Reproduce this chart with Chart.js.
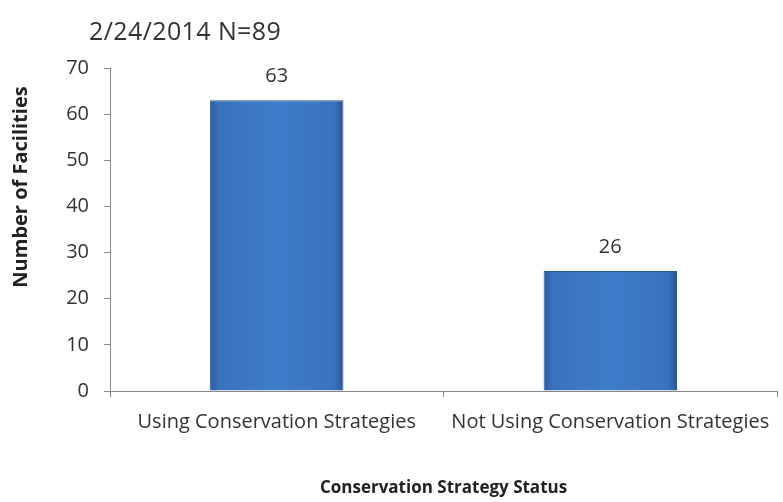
<!DOCTYPE html>
<html>
<head>
<meta charset="utf-8">
<script src="https://cdn.jsdelivr.net/npm/chart.js@4"></script>
<style>
  body { margin: 0; background: #fff; }
  #wrap { position: relative; width: 783px; height: 502px; }
  #title { position: absolute; left: 89px; top: 13px; font: 25px "Open Sans", sans-serif; line-height: 34px; color: #333; letter-spacing: 0.4px; }
</style>
</head>
<body>
<div id="wrap">
  <div id="title">2/24/2014 N=89</div>
  <canvas id="myChart" width="783" height="502"></canvas>
</div>
<script>
const categories = ['Using Conservation Strategies', 'Not Using Conservation Strategies'];
const facilities = [63, 26];
const yTicks = [0, 10, 20, 30, 40, 50, 60, 70];
const yTitle = 'Number of Facilities';

const font = '"Open Sans", sans-serif';

// numbers above the bars and the y axis title (sits above centre in the original)
const extras = {
  id: 'extras',
  afterDatasetsDraw(chart) {
    const ctx = chart.ctx;
    const meta = chart.getDatasetMeta(0);
    ctx.save();
    ctx.font = '20px ' + font;
    ctx.fillStyle = '#333';
    ctx.textAlign = 'center';
    ctx.textBaseline = 'middle';
    meta.data.forEach((bar, i) => {
      ctx.fillText(facilities[i], bar.x, bar.y - 24);
    });
    ctx.translate(21, chart.chartArea.top + 119);
    ctx.rotate(-Math.PI / 2);
    ctx.font = 'bold 20px ' + font;
    ctx.fillStyle = '#222';
    ctx.fillText(yTitle, 0, 0);
    ctx.restore();
  }
};

function barFill(c) {
  const el = c.element;
  if (!el) return '#3c78c4';
  const { x, width } = el.getProps(['x', 'width'], true);
  if (!isFinite(x) || !isFinite(width) || width <= 0) return '#3c78c4';
  const g = c.chart.ctx.createLinearGradient(x - width / 2, 0, x + width / 2, 0);
  g.addColorStop(0, '#2b5c9f');
  g.addColorStop(0.07, '#3a73bd');
  g.addColorStop(0.5, '#3e7cc9');
  g.addColorStop(0.93, '#3a73bd');
  g.addColorStop(1, '#28558f');
  return g;
}

const ctx = document.getElementById('myChart').getContext('2d');
const chart = new Chart(ctx, {
  type: 'bar',
  data: {
    labels: categories,
    datasets: [{
      data: facilities,
      backgroundColor: barFill,
      borderColor: '#2c5894',
      borderWidth: 1,
      categoryPercentage: 1,
      barPercentage: 0.4
    }]
  },
  options: {
    responsive: false,
    animation: false,
    layout: { padding: { top: 68, right: 3, left: 0, bottom: 0 } },
    plugins: {
      legend: { display: false },
      tooltip: { enabled: false }
    },
    scales: {
      x: {
        afterFit(scale) { scale.height = 111; },
        grid: { offset: true, drawOnChartArea: false, color: '#888', tickLength: 6 },
        border: { color: '#888' },
        ticks: { color: '#333', font: { family: font, size: 20 }, padding: 13, maxRotation: 0 },
        title: {
          display: true,
          text: 'Conservation Strategy Status',
          color: '#222',
          font: { family: font, size: 17, weight: 'bold' },
          padding: { top: 0, bottom: 4 }
        }
      },
      y: {
        min: 0,
        max: 70,
        afterFit(scale) { scale.width = 110; },
        afterBuildTicks(scale) { scale.ticks = yTicks.map(v => ({ value: v })); },
        grid: { drawOnChartArea: false, color: '#888', tickLength: 6 },
        border: { color: '#888' },
        ticks: { color: '#333', font: { family: font, size: 20 }, padding: 15 }
      }
    }
  },
  plugins: [extras]
});
// redraw once the bar positions are known so the gradient fill applies
chart.update();
</script>
</body>
</html>
